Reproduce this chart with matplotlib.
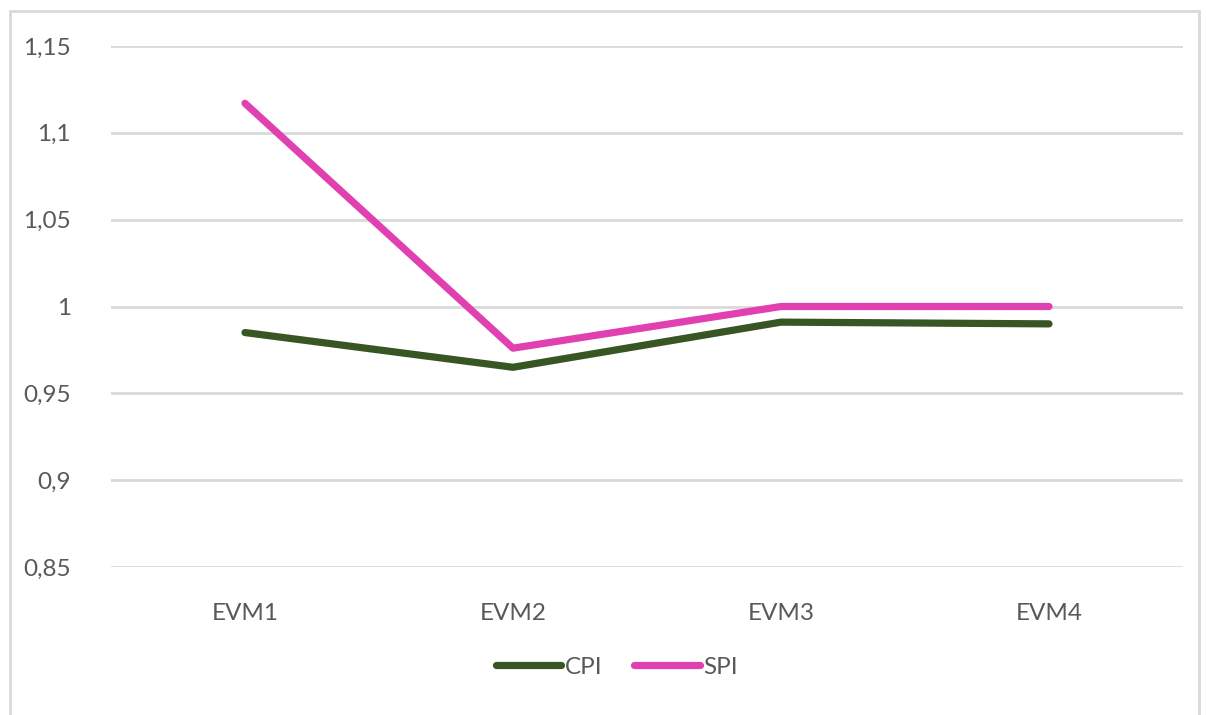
import matplotlib
matplotlib.use("Agg")
import matplotlib.pyplot as plt
from matplotlib.patches import Rectangle
from matplotlib.lines import Line2D

categories = ["EVM1", "EVM2", "EVM3", "EVM4"]
cpi = [0.985, 0.965, 0.991, 0.990]
spi = [1.117, 0.976, 1.000, 1.000]
yticks = [0.85, 0.90, 0.95, 1.00, 1.05, 1.10, 1.15]
ytick_labels = ["0,85", "0,9", "0,95", "1", "1,05", "1,1", "1,15"]

W, H = 1206, 715
plt.rcParams["font.family"] = ["Lato", "DejaVu Sans"]
text_color = "#595959"
grid_color = "#D9D9D9"
fs = 17.5

fig = plt.figure(figsize=(W / 100, H / 100), dpi=100)
fig.patch.set_facecolor("white")

# outer chart-area border
fig.add_artist(Rectangle((10 / W, -0.05), (1199 - 10) / W, 1 - 11 / H + 0.05,
                         transform=fig.transFigure, fill=False,
                         edgecolor=grid_color, linewidth=2))

ax = fig.add_axes([111 / W, 1 - 567 / H, (1183 - 111) / W, (567 - 46) / H])
x = list(range(len(categories)))
ax.plot(x, cpi, color="#375623", linewidth=5.2, solid_capstyle="round",
        solid_joinstyle="round", label="CPI", zorder=3)
ax.plot(x, spi, color="#E040B0", linewidth=5.2, solid_capstyle="round",
        solid_joinstyle="round", label="SPI", zorder=3)

ax.set_xlim(-0.5, len(categories) - 0.5)
ax.set_ylim(0.85, 1.15)
ax.set_yticks(yticks)
ax.set_yticklabels(ytick_labels)
ax.set_xticks(x)
ax.set_xticklabels(categories)
ax.tick_params(axis="both", length=0, labelsize=fs, labelcolor=text_color)
ax.tick_params(axis="y", pad=29)
ax.tick_params(axis="x", pad=26)
ax.grid(axis="y", color=grid_color, linewidth=2)
ax.set_axisbelow(True)
for s in ax.spines.values():
    s.set_visible(False)

handles = [Line2D([], [], color="#375623", linewidth=5.2, solid_capstyle="round"),
           Line2D([], [], color="#E040B0", linewidth=5.2, solid_capstyle="round")]
fig.legend(handles, ["CPI", "SPI"], loc="center", bbox_to_anchor=(617 / W, 1 - 667 / H),
           ncol=2, frameon=False, fontsize=fs, labelcolor=text_color,
           handlelength=2.7, handletextpad=0.15, columnspacing=1.3)

fig.savefig("out.png", dpi=100, facecolor="white")
